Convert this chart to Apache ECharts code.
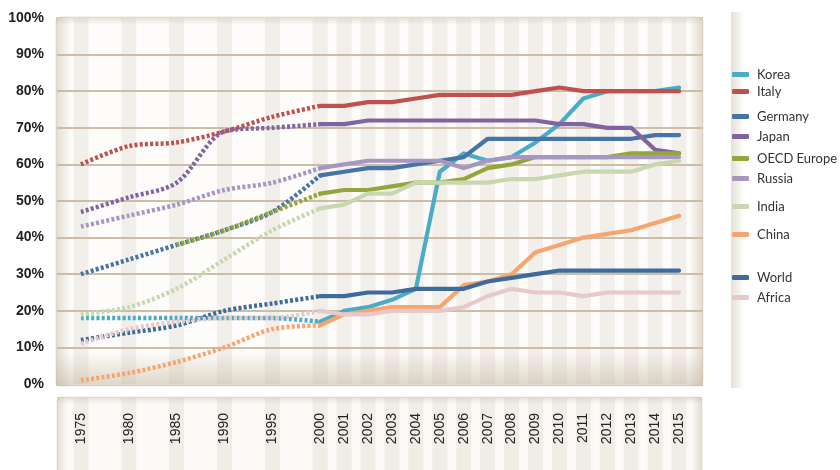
<!DOCTYPE html>
<html>
<head>
<meta charset="utf-8">
<script src="https://cdn.jsdelivr.net/npm/echarts@6/dist/echarts.min.js"></script>
<style>
html,body{margin:0;padding:0;background:#fff;}
#chart{width:840px;height:470px;}
</style>
</head>
<body>
<div id="chart"></div>
<script>
// Years: five-year steps to 2000 (dotted), then yearly (solid)
const histYears = ['1975','1980','1985','1990','1995','2000'];
const recentYears = ['2000','2001','2002','2003','2004','2005','2006','2007','2008','2009','2010','2011','2012','2013','2014','2015'];

const names = ['Korea','Italy','Germany','Japan','OECD Europe','Russia','India','China','World','Africa'];
const colors = ['#4bacc6','#c0504d','#4674a6','#8064a2','#93a63a','#a597c2','#c7d8b0','#f7a56e','#3d6b9b','#e6c9c8'];
const legendY = [75, 92, 117, 137, 159, 179, 207, 235, 278, 298];

// Values (%) 1975,1980,1985,1990,1995,2000
const koreaHist   = [18, 18, 18, 18, 18, 17];
const italyHist   = [60, 65, 66, 69, 73, 76];
const germanyHist = [30, 34, 38, 42, 47, 57];
const japanHist   = [47, 51, 55, 69, 70, 71];
const oecdHist    = [null, null, 38, 42, 47, 52];
const russiaHist  = [43, 46, 49, 53, 55, 59];
const indiaHist   = [19, 21, 26, 34, 42, 48];
const chinaHist   = [1, 3, 6, 10, 15, 16];
const worldHist   = [12, 14, 16, 20, 22, 24];
const africaHist  = [11, 15, 17, 18, 18, 20];

// Values (%) 2000..2015
const koreaRecent   = [17, 20, 21, 23, 26, 58, 63, 61, 62, 66, 71, 78, 80, 80, 80, 81];
const italyRecent   = [76, 76, 77, 77, 78, 79, 79, 79, 79, 80, 81, 80, 80, 80, 80, 80];
const germanyRecent = [57, 58, 59, 59, 60, 61, 62, 67, 67, 67, 67, 67, 67, 67, 68, 68];
const japanRecent   = [71, 71, 72, 72, 72, 72, 72, 72, 72, 72, 71, 71, 70, 70, 64, 63];
const oecdRecent    = [52, 53, 53, 54, 55, 55, 56, 59, 60, 62, 62, 62, 62, 63, 63, 63];
const russiaRecent  = [59, 60, 61, 61, 61, 61, 59, 61, 62, 62, 62, 62, 62, 62, 62, 62];
const indiaRecent   = [48, 49, 52, 52, 55, 55, 55, 55, 56, 56, 57, 58, 58, 58, 60, 61];
const chinaRecent   = [16, 19, 20, 21, 21, 21, 27, 28, 30, 36, 38, 40, 41, 42, 44, 46];
const worldRecent   = [24, 24, 25, 25, 26, 26, 26, 28, 29, 30, 31, 31, 31, 31, 31, 31];
const africaRecent  = [20, 19, 19, 20, 20, 20, 21, 24, 26, 25, 25, 24, 25, 25, 25, 25];

const hist = [koreaHist, italyHist, germanyHist, japanHist, oecdHist, russiaHist, indiaHist, chinaHist, worldHist, africaHist];
const recent = [koreaRecent, italyRecent, germanyRecent, japanRecent, oecdRecent, russiaRecent, indiaRecent, chinaRecent, worldRecent, africaRecent];

// Axis slots: a blank pad at each end, a blank half-step between five-year labels
const axisCats = [''];
histYears.forEach((y, i) => { if (i > 0) axisCats.push(''); axisCats.push(y); });
recentYears.slice(1).forEach(y => axisCats.push(y));
axisCats.push('');
const histIdx = histYears.map(y => axisCats.indexOf(y));
const recentIdx = recentYears.map(y => axisCats.indexOf(y));

function place(values, idx) {
  const arr = axisCats.map(() => null);
  values.forEach((v, i) => { arr[idx[i]] = v; });
  return arr;
}

const series = [];
// stripes (decoration)
series.push({
  type: 'bar', xAxisIndex: 0, yAxisIndex: 0, silent: true, z: 1,
  barWidth: 15, itemStyle: { color: '#f2efea' },
  data: axisCats.map(c => c ? 100 : null)
});
series.push({
  type: 'bar', xAxisIndex: 1, yAxisIndex: 1, silent: true, z: 1,
  barWidth: 15, itemStyle: { color: '#f0ede7' },
  data: axisCats.map(c => c ? 1 : null)
});
names.forEach((n, i) => {
  series.push({
    name: n, type: 'line', z: 4, symbol: 'none', connectNulls: true,
    color: colors[i],
    lineStyle: { width: 4.2, color: colors[i], cap: 'round', join: 'round' },
    data: place(recent[i], recentIdx)
  });
});
names.forEach((n, i) => {
  series.push({
    name: n, type: 'line', z: 4, symbol: 'none', connectNulls: true, smooth: 0.3,
    color: colors[i],
    lineStyle: { width: 4.5, color: colors[i], type: [3, 2.2], cap: 'butt' },
    data: place(hist[i], histIdx)
  });
});

const legends = names.map((n, i) => ({
  data: [n], left: 732, top: legendY[i] - 7, padding: 0,
  icon: 'roundRect', itemWidth: 17, itemHeight: 5, itemGap: 0,
  selectedMode: false,
  itemStyle: { borderWidth: 0 },
  textStyle: { fontFamily: 'Lato', fontSize: 13, color: '#333', padding: [0, 0, 0, 3] }
}));

const beige = a => 'rgba(190,175,150,' + a + ')';
function grad(x0, y0, x1, y1, a0, a1) {
  return { type: 'linear', x: x0, y: y0, x2: x1, y2: y1,
    colorStops: [{ offset: 0, color: beige(a0) }, { offset: 1, color: beige(a1) }] };
}

const chart = echarts.init(document.getElementById('chart'));
chart.setOption({
  animation: false,
  backgroundColor: '#ffffff',
  legend: legends,
  grid: [
    { left: 57, right: 137, top: 18, bottom: 86 },
    { left: 57, right: 137, top: 398, bottom: 0 }
  ],
  xAxis: [
    { type: 'category', gridIndex: 0, data: axisCats, boundaryGap: false, z: 3,
      axisLine: { show: false }, axisTick: { show: false }, splitLine: { show: false },
      axisLabel: { interval: 0, rotate: 90, margin: 29, fontFamily: 'Liberation Sans', fontSize: 14, color: '#222' } },
    { type: 'category', gridIndex: 1, data: axisCats, boundaryGap: false, show: false }
  ],
  yAxis: [
    { type: 'value', gridIndex: 0, min: 0, max: 100, interval: 10, z: 3,
      axisLine: { show: false }, axisTick: { show: false },
      axisLabel: { formatter: '{value}%', margin: 13, fontFamily: 'Liberation Sans', fontWeight: 'bold', fontSize: 14, color: '#222' },
      splitLine: { show: true, showMinLine: false, showMaxLine: false, lineStyle: { color: '#cbbda6', width: 2 } } },
    { type: 'value', gridIndex: 1, min: 0, max: 1, show: false }
  ],
  graphic: [
    { type: 'rect', z: 0, shape: { x: 56, y: 17, width: 647, height: 369, r: 4 }, style: { fill: '#fdfcfa', stroke: beige(0.3), lineWidth: 1 } },
    { type: 'rect', z: 2, shape: { x: 56, y: 17, width: 15, height: 369 }, style: { fill: grad(0, 0, 1, 0, 0.42, 0) } },
    { type: 'rect', z: 2, shape: { x: 689, y: 17, width: 14, height: 369 }, style: { fill: grad(0, 0, 1, 0, 0, 0.45) } },
    { type: 'rect', z: 2, shape: { x: 56, y: 17, width: 647, height: 8 }, style: { fill: grad(0, 0, 0, 1, 0.35, 0) } },
    { type: 'rect', z: 2, shape: { x: 56, y: 352, width: 647, height: 34 }, style: { fill: grad(0, 0, 0, 1, 0, 0.5) } },
    { type: 'rect', z: 0, shape: { x: 57, y: 397, width: 645, height: 80, r: 4 }, style: { fill: '#fbfaf7', stroke: beige(0.3), lineWidth: 1 } },
    { type: 'rect', z: 2, shape: { x: 57, y: 397, width: 10, height: 80 }, style: { fill: grad(0, 0, 1, 0, 0.4, 0) } },
    { type: 'rect', z: 2, shape: { x: 692, y: 397, width: 10, height: 80 }, style: { fill: grad(0, 0, 1, 0, 0, 0.4) } },
    { type: 'rect', z: 2, shape: { x: 57, y: 397, width: 645, height: 7 }, style: { fill: grad(0, 0, 0, 1, 0.35, 0) } },
    { type: 'rect', z: 2, shape: { x: 731, y: 12, width: 13, height: 376 }, style: { fill: grad(0, 0, 1, 0, 0.4, 0) } }
  ],
  series: series
});
</script>
</body>
</html>
